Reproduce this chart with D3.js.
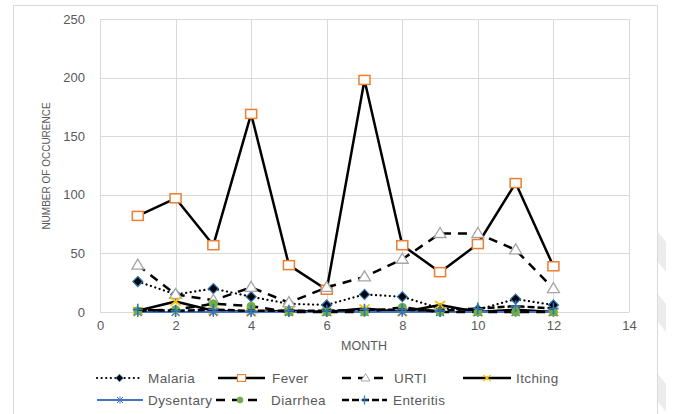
<!DOCTYPE html>
<html><head><meta charset="utf-8">
<script src="https://cdn.jsdelivr.net/npm/d3@7"></script>
<style>
html,body{margin:0;padding:0;background:#fff;}
svg text{font-family:"Liberation Sans",Arial,sans-serif;fill:#595959;}
</style></head>
<body><svg id="c" width="675" height="414"></svg>
<script>
const months = [1,2,3,4,5,6,7,8,9,10,11,12];
const malaria   = [26, 15, 20, 13, 7, 6, 15, 13, 3, 2, 11, 6];
const fever     = [82, 97, 57, 169, 40, 19, 198, 57, 34, 58, 110, 39];
const urti      = [40, 15, 10, 21, 8, 21, 30, 45, 67, 67, 53, 20];
const itching   = [1, 9, 1, 0, 1, 0, 3, 0, 6, 0, 2, 0];
const dysentary = [0, 0, 0, 0, 0, 0, 0, 0, 0, 0, 0, 0];
const diarrhea  = [1, 2, 7, 5, 0, 0, 0, 4, 0, 0, 0, 0];
const enteritis = [2, 1, 2, 1, 1, 1, 2, 2, 1, 3, 5, 3];
const xTicks = [0,2,4,6,8,10,12,14];
const yTicks = [0,50,100,150,200,250];
const seriesNames = ["Malaria","Fever","URTI","Itching","Dysentary","Diarrhea","Enteritis"];

const svg = d3.select("#c");
svg.append("rect").attr("x",13.5).attr("y",5.5).attr("width",644).attr("height",430)
  .attr("fill","none").attr("stroke","#d9d9d9");
[[232,272],[294,332],[374,412]].forEach(([a,b])=>{
  svg.append("path").attr("d",`M658,${a} L666,${a+10} L666,${b} L658,${b-10} Z`).attr("fill","#ececec");
});

const x = d3.scaleLinear().domain([0,14]).range([100,629]);
const y = d3.scaleLinear().domain([0,250]).range([312,19]);

const g = svg.append("g");
g.selectAll(".hg").data(yTicks).join("line")
  .attr("x1",x(0)).attr("x2",x(14)).attr("y1",d=>Math.round(y(d))+0.5).attr("y2",d=>Math.round(y(d))+0.5)
  .attr("stroke","#d9d9d9").attr("stroke-width",1);
g.selectAll(".vg").data(xTicks).join("line")
  .attr("y1",y(0)).attr("y2",y(250)).attr("x1",d=>Math.round(x(d))+0.5).attr("x2",d=>Math.round(x(d))+0.5)
  .attr("stroke","#d9d9d9").attr("stroke-width",1);

const xAxis = d3.axisBottom(x).tickValues(xTicks).tickSize(0).tickPadding(9);
const yAxis = d3.axisLeft(y).tickValues(yTicks).tickSize(0).tickPadding(15);
const xa = svg.append("g").attr("transform",`translate(0,${y(0)})`).call(xAxis);
const ya = svg.append("g").attr("transform",`translate(${x(0)},0)`).call(yAxis);
[xa,ya].forEach(a=>{a.select(".domain").remove(); a.selectAll("text").attr("font-size",13).style("fill","#595959").attr("font-family","Liberation Sans, Arial");});

svg.append("text").attr("x",364).attr("y",350).attr("text-anchor","middle").attr("font-size",12.5).text("MONTH");
svg.append("text").attr("transform","translate(50,166) rotate(-90)").attr("text-anchor","middle")
  .attr("font-size",10).text("NUMBER OF OCCURENCE");

const data = {Malaria:malaria, Fever:fever, URTI:urti, Itching:itching, Dysentary:dysentary, Diarrhea:diarrhea, Enteritis:enteritis};
const styles = {
  Malaria:  {stroke:"#000", w:2.2, dash:"0.1,4.5", cap:"round", marker:"diamond"},
  Fever:    {stroke:"#000", w:2.5, dash:null, cap:"butt", marker:"square"},
  URTI:     {stroke:"#000", w:2.5, dash:"9,7", cap:"butt", marker:"triangle"},
  Itching:  {stroke:"#000", w:2.5, dash:null, cap:"butt", marker:"x"},
  Dysentary:{stroke:"#4472C4", w:2.2, dash:null, cap:"butt", marker:"star"},
  Diarrhea: {stroke:"#000", w:2.5, dash:"9,7", cap:"butt", marker:"circle"},
  Enteritis:{stroke:"#000", w:2.5, dash:"7,3", cap:"butt", marker:"plus"}
};

function drawMarker(sel, type, cx, cy, k){
  k = k || 1;
  const m = sel.append("g").attr("transform",`translate(${cx},${cy}) scale(${k})`);
  if(type==="diamond"){
    m.append("path").attr("d","M0,-5 L5,0 L0,5 L-5,0 Z").attr("fill","#000").attr("stroke","#2e75b6").attr("stroke-width",1.2);
  } else if(type==="square"){
    m.append("rect").attr("x",-5.5).attr("y",-4.5).attr("width",11).attr("height",9).attr("fill","#fff").attr("stroke","#ED7D31").attr("stroke-width",1.5);
  } else if(type==="triangle"){
    m.append("path").attr("d","M0,-6 L6,4 L-6,4 Z").attr("fill","#fff").attr("stroke","#a5a5a5").attr("stroke-width",1.3);
  } else if(type==="x"){
    m.append("path").attr("d","M-5,-4 L5,4 M-5,4 L5,-4").attr("stroke","#FFC000").attr("stroke-width",1.8);
  } else if(type==="star"){
    m.append("path").attr("d","M-4,-4 L4,4 M-4,4 L4,-4 M0,-5 L0,5").attr("stroke","#4472C4").attr("stroke-width",1.3);
  } else if(type==="circle"){
    m.append("circle").attr("r",4).attr("fill","#70AD47").attr("stroke","#70AD47");
  } else if(type==="plus"){
    m.append("path").attr("d","M-5,0 L5,0 M0,-6 L0,6").attr("stroke","#2e75b6").attr("stroke-width",1.6);
  }
}

const line = d3.line().x((d,i)=>x(months[i])).y(d=>y(d));
const plot = svg.append("g");
seriesNames.forEach(name=>{
  const s = styles[name];
  const p = plot.append("path").datum(data[name]).attr("d",line).attr("fill","none")
    .attr("stroke",s.stroke).attr("stroke-width",s.w).attr("stroke-linecap",s.cap).attr("stroke-linejoin","round");
  if(s.dash) p.attr("stroke-dasharray",s.dash);
  const mg = plot.append("g");
  data[name].forEach((v,i)=>drawMarker(mg, s.marker, x(months[i]), y(v)));
});

const legendPos = [
  {n:"Malaria", x1:97, x2:142, tx:148, y:378},
  {n:"Fever", x1:218, x2:265, tx:272, y:378},
  {n:"URTI", x1:342, x2:389, tx:394, y:378},
  {n:"Itching", x1:463, x2:511, tx:516, y:378},
  {n:"Dysentary", x1:97, x2:143, tx:148, y:400},
  {n:"Diarrhea", x1:216, x2:264, tx:271, y:400},
  {n:"Enteritis", x1:342, x2:387, tx:393, y:400}
];
const lg = svg.append("g");
legendPos.forEach(l=>{
  const s = styles[l.n];
  const p = lg.append("line").attr("x1",l.x1).attr("x2",l.x2).attr("y1",l.y).attr("y2",l.y)
    .attr("stroke",s.stroke).attr("stroke-width",s.w).attr("stroke-linecap",s.cap);
  if(s.dash) p.attr("stroke-dasharray",s.dash);
  drawMarker(lg, s.marker, (l.x1+l.x2)/2, l.y, 0.75);
  lg.append("text").attr("x",l.tx).attr("y",l.y+4.5).attr("font-size",13.5).attr("letter-spacing",0.4).text(l.n);
});
</script></body></html>
